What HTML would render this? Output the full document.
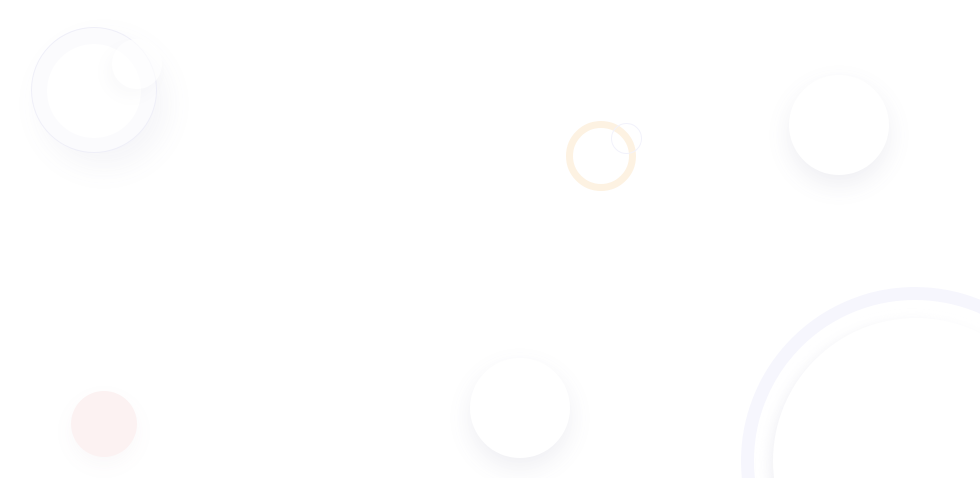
<!DOCTYPE html>
<html><head><style>
html,body{margin:0;padding:0;width:980px;height:478px;overflow:hidden;background:#fff;}
#w{position:relative;width:980px;height:478px;overflow:hidden;}
.c{position:absolute;border-radius:50%;box-sizing:border-box;}
svg{position:absolute;left:0;top:0;}
</style></head><body><div id="w">
<svg width="980" height="478" viewBox="0 0 980 478">
<defs><filter id="s" x="-20%" y="-20%" width="140%" height="140%"><feGaussianBlur stdDeviation="6"/></filter></defs>
<circle cx="915" cy="461" r="167.5" fill="none" stroke="#f6f6fd" stroke-width="13"/>
<circle cx="912" cy="465" r="143" fill="#ececf2" opacity="0.7" filter="url(#s)"/>
<circle cx="916" cy="461" r="143" fill="#fff"/>
</svg>
<div class="c" style="left:31px;top:27px;width:126px;height:126px;border:1px solid #efeff8;background:#fbfbfd;box-shadow:10px 14px 30px rgba(120,120,160,0.07);"></div>
<div class="c" style="left:47px;top:44px;width:94px;height:94px;background:#fff;"></div>
<div class="c" style="left:112px;top:39px;width:50px;height:50px;background:rgba(255,255,255,0.6);box-shadow:-6px 8px 14px rgba(120,120,160,0.04);"></div>
<div class="c" style="left:566px;top:121px;width:70px;height:70px;border:7px solid #fdf2e2;"></div>
<div class="c" style="left:611px;top:123px;width:31px;height:31px;border:1.5px solid #f2f2fb;"></div>
<div class="c" style="left:789px;top:75px;width:100px;height:100px;background:#fff;box-shadow:0 10px 24px rgba(110,110,150,0.11);"></div>
<div class="c" style="left:470px;top:358px;width:100px;height:100px;background:#fff;box-shadow:0 10px 24px rgba(110,110,150,0.11);"></div>
<div class="c" style="left:71px;top:391px;width:66px;height:66px;background:#fcf2f2;box-shadow:0 8px 20px rgba(150,120,140,0.05);"></div>
</div></body></html>
